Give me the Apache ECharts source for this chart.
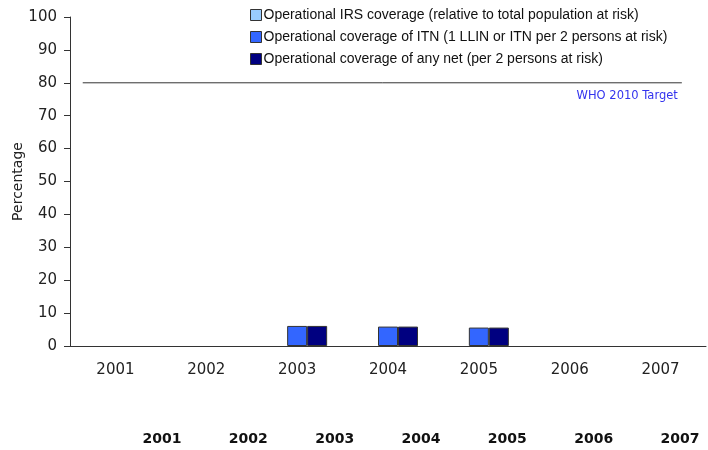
<!DOCTYPE html>
<html>
<head>
<meta charset="utf-8">
<script src="https://cdn.jsdelivr.net/npm/echarts@6/dist/echarts.min.js"></script>
<style>
  html, body { margin: 0; padding: 0; background: #fff; }
  #main { width: 708px; height: 450px; }
</style>
</head>
<body>
<div id="main"></div>
<script>
// data
var years = ['2001', '2002', '2003', '2004', '2005', '2006', '2007'];
var irsCoverage = [null, null, null, null, null, null, null];
var itnCoverage = [null, null, 6.1, 5.9, 5.6, null, null];
var anyNetCoverage = [null, null, 6.1, 5.9, 5.6, null, null];
var yTicks = [0, 10, 20, 30, 40, 50, 60, 70, 80, 90, 100];
var targetValue = 80;
var targetName = 'WHO 2010 Target';

var seriesNames = [
  'Operational IRS coverage (relative to total population at risk)',
  'Operational coverage of ITN (1 LLIN or ITN per 2 persons at risk)',
  'Operational coverage of any net (per 2 persons at risk)'
];

var fontFamily = 'DejaVu Sans';
var axisColor = '#333';

var chart = echarts.init(document.getElementById('main'));

function barSeries(name, data, color) {
  return {
    name: name,
    type: 'bar',
    xAxisIndex: 0,
    yAxisIndex: 0,
    barWidth: 20,
    barGap: '0%',
    itemStyle: { color: color, borderColor: '#333', borderWidth: 1 },
    data: data
  };
}

var option = {
  animation: false,
  textStyle: { fontFamily: fontFamily },
  legend: {
    orient: 'vertical',
    left: 250,
    top: 8,
    padding: 0,
    itemWidth: 11,
    itemHeight: 11,
    itemGap: 8,
    icon: 'rect',
    itemStyle: { borderColor: '#333', borderWidth: 1 },
    textStyle: { fontSize: 14, color: '#111', fontFamily: 'Liberation Sans', padding: [0, 0, 0, -3] },
    data: seriesNames
  },
  grid: [
    { left: 70, right: 2, top: 17, bottom: 104, outerBoundsMode: 'none' },
    { left: 162, right: 28, top: 17, bottom: 104, outerBoundsMode: 'none' }
  ],
  xAxis: [
    {
      type: 'category',
      gridIndex: 0,
      data: years,
      axisLine: { lineStyle: { color: axisColor, width: 1 } },
      axisTick: { length: 8, lineStyle: { color: axisColor } },
      axisLabel: { fontSize: 15, color: '#222', margin: 17 }
    },
    {
      type: 'category',
      gridIndex: 1,
      data: years,
      boundaryGap: false,
      axisLine: { show: false },
      axisTick: { show: false },
      axisLabel: { fontSize: 14, fontWeight: 'bold', color: '#111', margin: 86 }
    },
    {
      type: 'value',
      gridIndex: 0,
      min: 0,
      max: 1,
      show: false
    }
  ],
  yAxis: [
    {
      type: 'value',
      gridIndex: 0,
      min: yTicks[0],
      max: yTicks[yTicks.length - 1],
      interval: yTicks[1] - yTicks[0],
      name: 'Percentage',
      nameLocation: 'middle',
      nameGap: 45,
      nameMoveOverlap: false,
      nameTextStyle: { fontSize: 14, color: '#222' },
      axisLine: { show: true, lineStyle: { color: axisColor } },
      axisTick: { show: true, length: 6, lineStyle: { color: axisColor } },
      axisLabel: { fontSize: 15, color: '#222', margin: 13 },
      splitLine: { show: false }
    },
    {
      type: 'value',
      gridIndex: 1,
      min: 0,
      max: 100,
      show: false
    }
  ],
  series: [
    barSeries(seriesNames[0], irsCoverage, '#99ccff'),
    barSeries(seriesNames[1], itnCoverage, '#3366ff'),
    barSeries(seriesNames[2], anyNetCoverage, '#000080'),
    {
      name: targetName,
      type: 'line',
      xAxisIndex: 2,
      yAxisIndex: 0,
      symbol: 'circle',
      symbolSize: 0,
      showSymbol: true,
      silent: true,
      lineStyle: { color: '#333', width: 1 },
      data: [
        [0.02, targetValue],
        {
          value: [0.962, targetValue],
          label: {
            show: true,
            position: 'bottom',
            align: 'right',
            distance: 7,
            offset: [-4, 0],
            formatter: targetName,
            fontSize: 11.5,
            color: '#3333ee'
          }
        }
      ]
    }
  ]
};

chart.setOption(option);
</script>
</body>
</html>
